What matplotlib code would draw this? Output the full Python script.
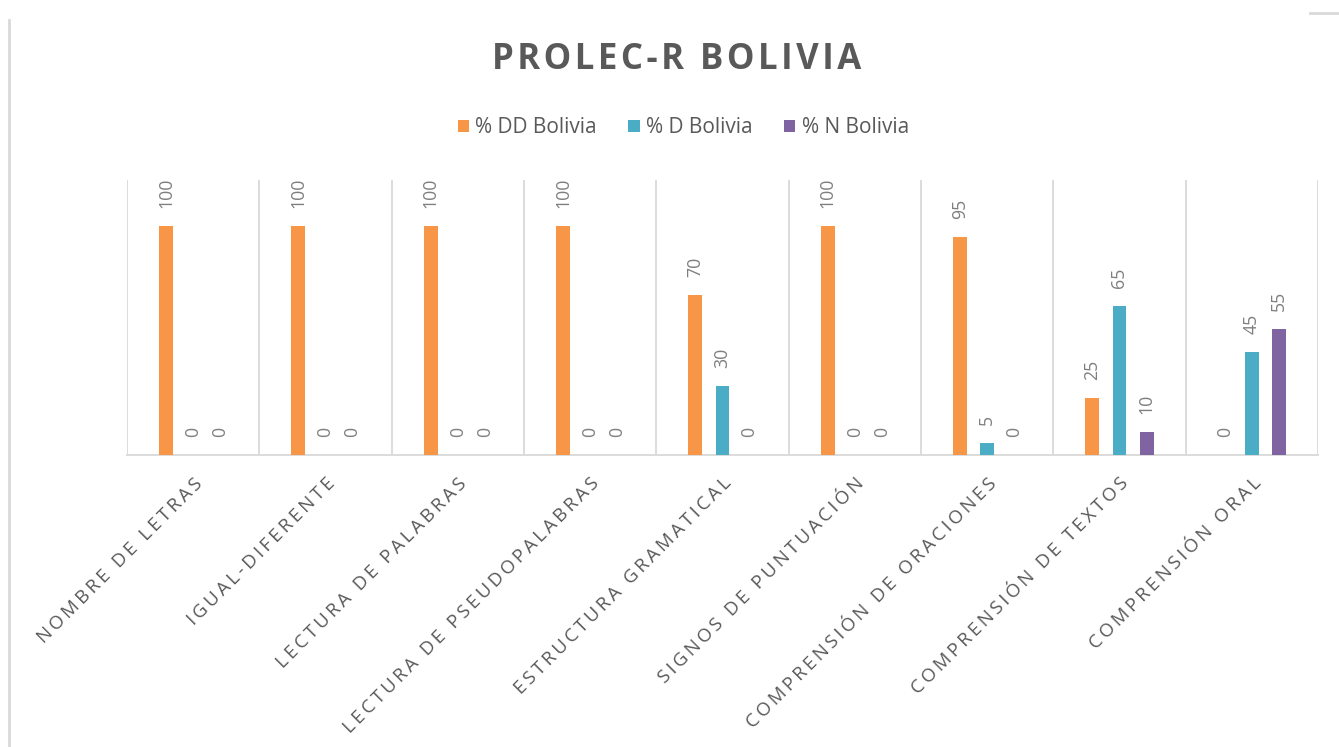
import matplotlib.pyplot as plt
import numpy as np
from matplotlib.lines import Line2D

categories = ["NOMBRE DE LETRAS", "IGUAL-DIFERENTE", "LECTURA DE PALABRAS",
              "LECTURA DE PSEUDOPALABRAS", "ESTRUCTURA GRAMATICAL",
              "SIGNOS DE PUNTUACIÓN", "COMPRENSIÓN DE ORACIONES",
              "COMPRENSIÓN DE TEXTOS", "COMPRENSIÓN ORAL"]
dd = [100, 100, 100, 100, 70, 100, 95, 25, 0]
d = [0, 0, 0, 0, 30, 0, 5, 65, 45]
n = [0, 0, 0, 0, 0, 0, 0, 10, 55]
series_names = ["% DD Bolivia", "% D Bolivia", "% N Bolivia"]
colors = ["#F79646", "#4BACC6", "#8064A2"]

plt.rcParams['font.family'] = ['Open Sans', 'DejaVu Sans']

fig = plt.figure(figsize=(13.39, 7.47), dpi=100)
ax = fig.add_axes([0.0948, 0.391, 0.8895, 0.368])

x = np.arange(len(categories))
w = 0.105
off = 0.205
for k, (vals, name, c) in enumerate(zip([dd, d, n], series_names, colors)):
    pos = x + (k - 1) * off
    ax.bar(pos, vals, w, color=c, label=name, zorder=3)
    for p, v in zip(pos, vals):
        ax.annotate(str(v), (p, v), xytext=(0, 13), textcoords="offset points",
                    rotation=90, ha="center", va="bottom", fontsize=12.8,
                    color="#7f7f7f")

ax.set_xlim(-0.5, len(categories) - 0.5)
ax.set_ylim(0, 120)
ax.set_yticks([])
# category separators
for b in np.arange(-0.5, len(categories), 1):
    ax.axvline(b, color="#d9d9d9", lw=1.3, zorder=1)
for s in ["top", "right", "left"]:
    ax.spines[s].set_visible(False)
ax.spines["bottom"].set_color("#d9d9d9")
ax.spines["bottom"].set_linewidth(1.3)

# letter spaced category labels
spaced = ["\u2009".join(c) for c in categories]
ax.set_xticks(x)
ax.set_xticklabels(spaced, rotation=45, ha="right", rotation_mode="anchor",
                   fontsize=13.5, color="#595959")
ax.tick_params(axis="x", length=0, pad=14)

title = "\u200a".join("PROLEC-R BOLIVIA")
fig.text(0.505, 0.92, title, ha="center", va="center", fontsize=25,
         fontweight="bold", color="#595959")

fig.legend(loc="center", bbox_to_anchor=(0.5103, 0.829), ncol=3, frameon=False,
           fontsize=15, handlelength=0.55, handleheight=0.55, handletextpad=0.3,
           columnspacing=1.5, labelcolor="#595959")

fig.add_artist(Line2D([9 / 1339, 9 / 1339], [0, 1 - 20 / 747], color="#d9d9d9", lw=2))
fig.add_artist(Line2D([1310 / 1339, 1], [1 - 13 / 747, 1 - 13 / 747], color="#d9d9d9", lw=2))

fig.savefig("out.png", dpi=100)
